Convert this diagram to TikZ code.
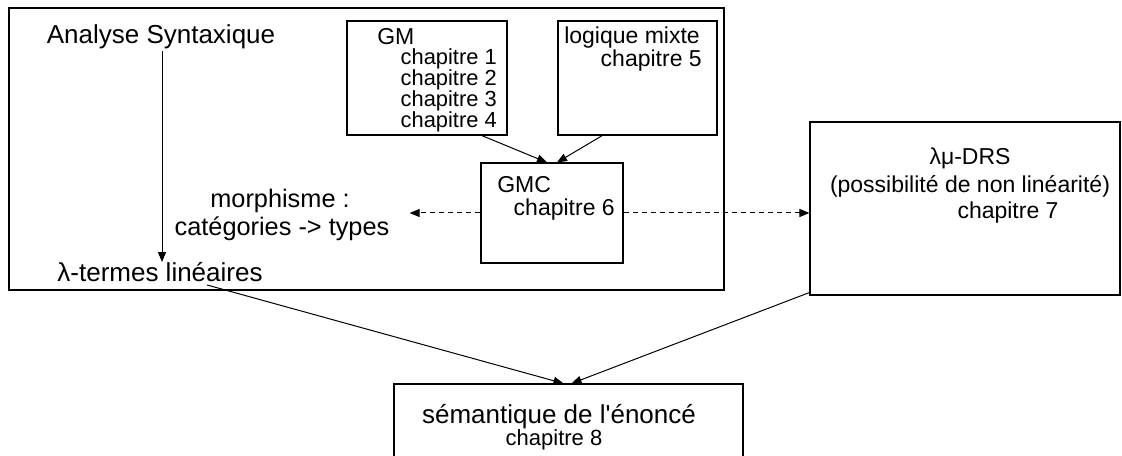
\documentclass[tikz,border=0pt]{standalone}
\usepackage{fontspec}
\setmainfont{Liberation Sans}[Ligatures=TeXOff]
\usetikzlibrary{arrows.meta,calc,fit}
\begin{document}
\begin{tikzpicture}[x=0.75pt,y=-0.75pt,
  box/.style={draw, line width=0.8pt, inner sep=0pt, rectangle},
  big/.style={font=\fontsize{19.5}{21}\selectfont, inner sep=0pt},
  small/.style={font=\fontsize{17.25}{15}\selectfont, inner sep=0pt},
  tight/.style={font=\fontsize{16.4}{15}\selectfont, inner sep=0pt, anchor=east},
  conn/.style={line width=0.75pt, -{Triangle[length=7.5pt,width=6pt]}},
  dconn/.style={conn, dash pattern=on 3.75pt off 3pt}]
\useasboundingbox (0,0) rectangle (1122,456);
\begin{scope}
\clip (0,0) rectangle (1122,456);
% boxes
\node[box, fit={(9,8) (724,290)}] (outer) {};
\node[box, fit={(347,21) (507,135)}] (gm) {};
\node[box, fit={(558,21) (717,135)}] (lm) {};
\node[box, fit={(481,163) (623,263)}] (gmc) {};
\node[box, fit={(810,122) (1120,295)}] (drs) {};
\node[box, fit={(394,384) (743,470)}] (sem) {};
% texts
\node[big] (as) at (161,37) {Analyse Syntaxique};
\node[big] (lt) at (160,272) {λ-termes linéaires};
\node[big, font=\fontsize{19}{21}\selectfont] (mo1) at (280,201) {morphisme :};
\node[big, font=\fontsize{19}{21}\selectfont] (mo2) at (282,229) {catégories -> types};
\node[small, anchor=west] (gmt) at (377,37) {GM};
\node[tight] (gm1) at (497,59) {chapitre 1};
\node[tight] (gm2) at (497,80) {chapitre 2};
\node[tight] (gm3) at (497,101) {chapitre 3};
\node[tight] (gm4) at (497,122) {chapitre 4};
\node[small, anchor=west] (lmt) at (564,38) {logique mixte};
\node[small, anchor=east] (lmch) at (702,61) {chapitre 5};
\node[small, anchor=west] (gmct) at (497,185) {GMC};
\node[small, anchor=east] (gmcch) at (615,210) {chapitre 6};
\node[small] (drst) at (970,158) {λμ-DRS};
\node[small] (drsp) at (970,186) {(possibilité de non linéarité)};
\node[small] (drsch) at (1008,213) {chapitre 7};
\node[big] (semt) at (559,417) {sémantique de l'énoncé};
\node[small, font=\fontsize{16.5}{15}\selectfont] (semch) at (554,440) {chapitre 8};
% connectors
\coordinate (asS) at ($(as.south)+(1,2)$);
\draw[conn] (asS) -- (asS |- lt.north);
\draw[conn] ($(gm.south west)!0.84!(gm.south east)$) -- ($(gmc.north)+(-5,0)$);
\draw[conn] ($(lm.south west)!0.28!(lm.south east)$) -- ($(gmc.north)+(5,0)$);
\draw[dconn] (gmc.west) -- ($(mo2.east |- gmc.west)+(20,0)$);
\draw[dconn] (gmc.east) -- (gmc.east -| drs.west);
\coordinate (ltS) at ($(lt.south)+(47,3)$);
\draw[conn] (ltS) -- ($(sem.north)+(-5,0)$);
\draw[conn] ($(drs.south west)+(0,-3)$) -- ($(sem.north)+(3,0)$);
\end{scope}
\end{tikzpicture}
\end{document}
